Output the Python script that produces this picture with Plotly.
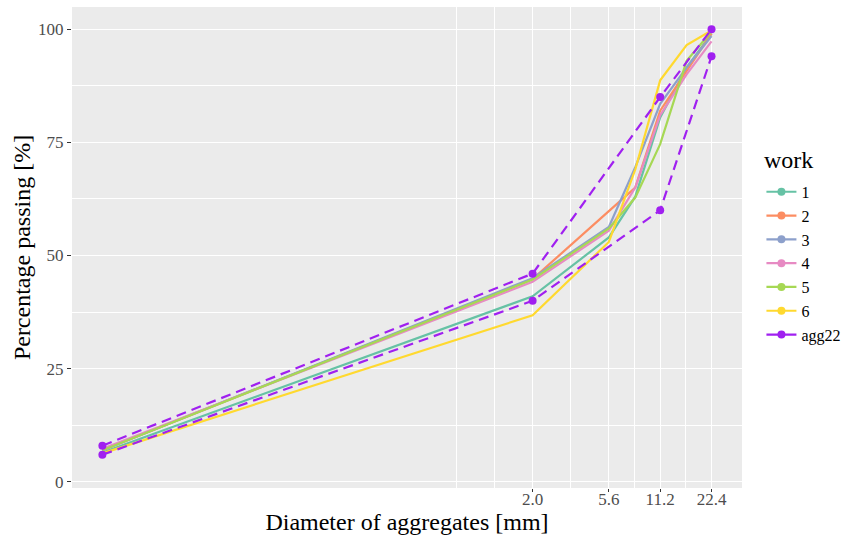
import numpy as np
import plotly.graph_objects as go

# ---- data ----
sieves = [0.006, 2.0, 5.6, 8.0, 11.2, 16.0, 22.4]
work_names = ["1", "2", "3", "4", "5", "6"]
work1 = [6.5, 41.0, 54.0, 63.0, 80.5, 91.5, 99.0]
work2 = [7.0, 44.8, 59.8, 65.0, 82.0, 90.8, 99.0]
work3 = [7.0, 45.0, 56.3, 69.5, 83.5, 91.5, 98.5]
work4 = [7.3, 44.2, 55.5, 65.0, 81.0, 90.0, 97.3]
work5 = [7.0, 44.7, 56.0, 62.8, 74.6, 93.0, 99.5]
work6 = [6.3, 36.8, 53.0, 69.0, 88.7, 96.5, 99.7]
agg_x = [0.006, 2.0, 11.2, 22.4]
agg_upper = [8.0, 46.0, 85.0, 100.0]
agg_lower = [6.0, 40.0, 60.0, 94.0]
x_ticks = [2.0, 5.6, 11.2, 22.4]
x_ticklabels = ["2.0", "5.6", "11.2", "22.4"]
y_ticks = [0, 25, 50, 75, 100]

works = [work1, work2, work3, work4, work5, work6]
colors = ["#66C2A5", "#FC8D62", "#8DA0CB", "#E78AC3", "#A6D854", "#FFD92F"]
agg_color = "#A020F0"
FONT = "Liberation Serif"

fig = go.Figure()
for name, vals, col in zip(work_names, works, colors):
    fig.add_trace(go.Scatter(x=sieves, y=vals, mode="lines", name=name,
                             line=dict(color=col, width=2.2), showlegend=False,
                             hoverinfo="x+y"))
for vals in (agg_upper, agg_lower):
    fig.add_trace(go.Scatter(x=agg_x, y=vals, mode="lines+markers", name="agg22",
                             line=dict(color=agg_color, width=2.2, dash="10px,6px"),
                             marker=dict(color=agg_color, size=8), showlegend=False))
# legend entries (ggplot-style key: solid line + point)
for name, col in zip(work_names + ["agg22"], colors + [agg_color]):
    fig.add_trace(go.Scatter(x=[None], y=[None], mode="lines+markers", name=name,
                             line=dict(color=col, width=2.2),
                             marker=dict(color=col, size=8)))

# minor grid positions: midpoints in log space, plus one extended break below
lt = np.log10(x_ticks)
ext = np.concatenate([[lt[0] - (lt[1] - lt[0])], lt])
minor_x = [10 ** v for v in ext[:1]] + [10 ** ((a + b) / 2) for a, b in zip(ext[:-1], ext[1:])]
minor_y = [(a + b) / 2 for a, b in zip(y_ticks[:-1], y_ticks[1:])]

fig.update_layout(
    width=846, height=539,
    margin=dict(l=72, r=104, t=7, b=51, autoexpand=False),
    paper_bgcolor="white", plot_bgcolor="#EBEBEB",
    font=dict(family=FONT, color="#4D4D4D", size=18),
    legend=dict(x=1.029, xanchor="left", y=0.651, yanchor="top",
                font=dict(size=16, color="black"), bgcolor="rgba(0,0,0,0)",
                itemwidth=30, tracegroupgap=0),
    annotations=[dict(text="work", xref="paper", yref="paper", x=1.03, y=0.682,
                      xanchor="left", yanchor="middle", showarrow=False,
                      font=dict(size=24, color="black", family=FONT))],
)
fig.update_xaxes(
    type="log", range=[-2.40, 1.529], automargin=False,
    tickmode="array", tickvals=x_ticks, ticktext=x_ticklabels,
    showgrid=True, gridcolor="white", gridwidth=1.4,
    minor=dict(tickmode="array", tickvals=minor_x, showgrid=True,
               gridcolor="white", gridwidth=0.7, ticks=""),
    ticks="outside", ticklen=3, tickcolor="#333333", tickwidth=1,
    tickfont=dict(size=17, color="#4D4D4D"), ticklabelstandoff=-7,
    zeroline=False, showline=False,
    title=dict(text="Diameter of aggregates [mm]", font=dict(size=24, color="black"), standoff=2),
)
fig.update_yaxes(
    range=[-1.35, 104.9], automargin=False,
    tickmode="array", tickvals=y_ticks,
    showgrid=True, gridcolor="white", gridwidth=1.4,
    minor=dict(tickmode="array", tickvals=minor_y, showgrid=True,
               gridcolor="white", gridwidth=0.7, ticks=""),
    ticks="outside", ticklen=4, tickcolor="#333333", tickwidth=1,
    tickfont=dict(size=17, color="#4D4D4D"),
    zeroline=False, showline=False,
    title=dict(text="Percentage passing [%]", font=dict(size=24, color="black"), standoff=0),
)
fig.write_html("out.html")
